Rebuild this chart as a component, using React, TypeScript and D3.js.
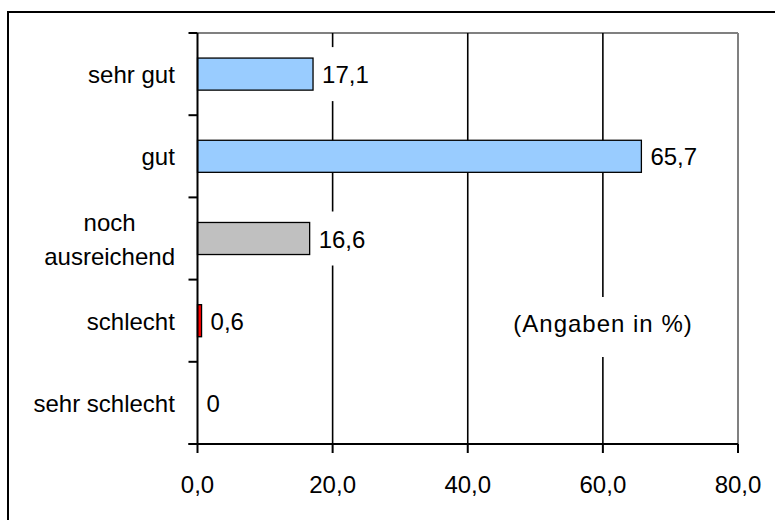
import React, { useEffect, useRef } from "react";
import * as d3 from "d3";

const categories: string[][] = [["sehr gut"], ["gut"], ["noch", "ausreichend"], ["schlecht"], ["sehr schlecht"]];
const values: number[] = [17.1, 65.7, 16.6, 0.6, 0];
const valueLabels: string[] = ["17,1", "65,7", "16,6", "0,6", "0"];
const barColors: string[] = ["#99CCFF", "#99CCFF", "#C0C0C0", "#FF0000", "#FF0000"];
const xTicks: number[] = [0, 20, 40, 60, 80];
const note = "(Angaben in %)";

const W = 775, H = 520;
const FONT = "Arial, 'Liberation Sans', sans-serif";
const FS = 24;

export default function App() {
  const ref = useRef<SVGSVGElement>(null);
  useEffect(() => {
    const svg = d3.select(ref.current);
    svg.selectAll("*").remove();
    const m = { left: 197.5, right: 738, top: 33, bottom: 444 };
    const x = d3.scaleLinear().domain([0, 80]).range([m.left, m.right]);
    const y = d3.scaleBand<number>().domain(d3.range(categories.length)).range([m.top, m.bottom]).paddingInner(0.61).paddingOuter(0.305);
    const step = y.step();

    svg.append("rect").attr("x", 0).attr("y", 0).attr("width", W).attr("height", H).attr("fill", "#fff");
    svg.append("rect").attr("x", 8).attr("y", 12).attr("width", 900).attr("height", 700).attr("fill", "none").attr("stroke", "#000").attr("stroke-width", 2);

    svg.append("line").attr("x1", m.left).attr("x2", m.right).attr("y1", m.top).attr("y2", m.top).attr("stroke", "#808080").attr("stroke-width", 2);
    svg.append("line").attr("x1", m.right).attr("x2", m.right).attr("y1", m.top).attr("y2", m.bottom).attr("stroke", "#808080").attr("stroke-width", 2);

    svg.append("g").selectAll("line").data(xTicks.filter(t => t > 0 && t < 80)).join("line")
      .attr("x1", d => x(d)).attr("x2", d => x(d)).attr("y1", m.top).attr("y2", m.bottom)
      .attr("stroke", "#000").attr("stroke-width", 1.6);

    svg.append("g").selectAll("rect").data(values).join("rect")
      .attr("x", x(0)).attr("y", (_, i) => y(i)!)
      .attr("width", d => x(d) - x(0)).attr("height", y.bandwidth())
      .attr("fill", (_, i) => barColors[i])
      .attr("stroke", "#000").attr("stroke-width", 1.3)
      .attr("display", d => (d > 0 ? null : "none"));

    const lg = svg.append("g");
    values.forEach((v, i) => {
      const cy = y(i)! + y.bandwidth() / 2;
      const g = lg.append("g");
      const box = g.append("rect").attr("fill", "#fff");
      const t = g.append("text").attr("x", x(v) + 9).attr("y", cy).attr("dy", "0.38em")
        .attr("font-family", FONT).attr("font-size", FS).attr("fill", "#000").text(valueLabels[i]);
      const bb = (t.node() as SVGTextElement).getBBox();
      box.attr("x", bb.x - 5).attr("y", cy - 27).attr("width", bb.width + 10).attr("height", 54);
    });

    const ng = svg.append("g");
    const nb = ng.append("rect").attr("fill", "#fff");
    const nt = ng.append("text").attr("x", 603).attr("y", 332).attr("text-anchor", "middle")
      .attr("font-family", FONT).attr("font-size", FS).attr("letter-spacing", 1).attr("fill", "#000").text(note);
    const nbb = (nt.node() as SVGTextElement).getBBox();
    nb.attr("x", nbb.x - 6).attr("y", 297).attr("width", nbb.width + 12).attr("height", 60);

    svg.append("line").attr("x1", m.left).attr("x2", m.left).attr("y1", m.top).attr("y2", m.bottom).attr("stroke", "#000").attr("stroke-width", 2);
    svg.append("line").attr("x1", m.left - 9).attr("x2", m.right).attr("y1", m.bottom).attr("y2", m.bottom).attr("stroke", "#000").attr("stroke-width", 2);
    svg.append("g").selectAll("line").data(d3.range(categories.length + 1)).join("line")
      .attr("x1", m.left - 9).attr("x2", m.left).attr("y1", d => m.top + d * step).attr("y2", d => m.top + d * step)
      .attr("stroke", "#000").attr("stroke-width", 2);
    svg.append("g").selectAll("line").data(xTicks).join("line")
      .attr("x1", d => x(d)).attr("x2", d => x(d)).attr("y1", m.bottom).attr("y2", m.bottom + 9)
      .attr("stroke", "#000").attr("stroke-width", 2);
    svg.append("g").selectAll("text").data(xTicks).join("text")
      .attr("x", d => x(d)).attr("y", 493).attr("text-anchor", "middle")
      .attr("font-family", FONT).attr("font-size", FS).attr("fill", "#000")
      .text(d => d3.format(".1f")(d).replace(".", ","));

    const cg = svg.append("g");
    categories.forEach((lines, i) => {
      const cy = y(i)! + y.bandwidth() / 2;
      const lh = 34;
      const t = cg.append("text").attr("text-anchor", "middle")
        .attr("font-family", FONT).attr("font-size", FS).attr("fill", "#000");
      lines.forEach((ln, j) => {
        t.append("tspan").attr("x", 0).attr("y", cy + (j - (lines.length - 1) / 2) * lh).attr("dy", "0.38em").text(ln);
      });
      const bb = (t.node() as SVGTextElement).getBBox();
      t.attr("transform", `translate(${175 - bb.width / 2},0)`);
    });
  }, []);
  return (
    <svg ref={ref} width={W} height={H} style={{ position: "absolute", left: 0, top: 0 }} />
  );
}
